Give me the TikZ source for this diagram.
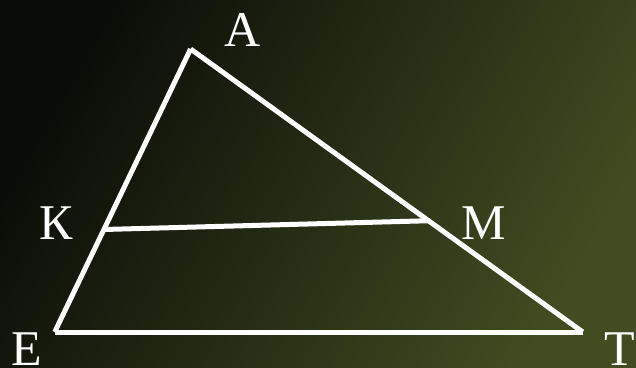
\documentclass[tikz,border=0pt]{standalone}
\usepackage{fontspec}
\setmainfont{Liberation Serif}
\definecolor{bgdark}{HTML}{0A0D07}
\definecolor{bglight}{HTML}{414C21}
\tikzset{
  side/.style={draw=white, line width=5pt, line cap=butt},
  lbl/.style={text=white, inner sep=0pt, anchor=base, font=\fontsize{50}{60}\selectfont}
}
\begin{document}
\begin{tikzpicture}[x=1pt,y=-1pt]
\shade[top color=bgdark, bottom color=bglight, shading angle=60] (0,0) rectangle (636,367);
\useasboundingbox (0,0) rectangle (636,367);
\coordinate (A) at (190.6,49);
\coordinate (E) at (54.7,332);
\coordinate (T) at (582.7,332);
\coordinate (K) at (103.4,229.5);
\coordinate (M) at (430,220.7);
\draw[side] (A) -- (E);
\draw[side] (A) -- (T);
\draw[side] (E) -- (T);
\draw[side] (K) -- (M);
\node[lbl] (lA) at (243,46.7) {А};
\node[lbl] (lK) at (55.8,239.3) {К};
\node[lbl] (lM) at (483.5,239.3) {М};
\node[lbl] (lE) at (27,365) {Е};
\node[lbl] (lT) at (620,365) {Т};
\end{tikzpicture}
\end{document}
